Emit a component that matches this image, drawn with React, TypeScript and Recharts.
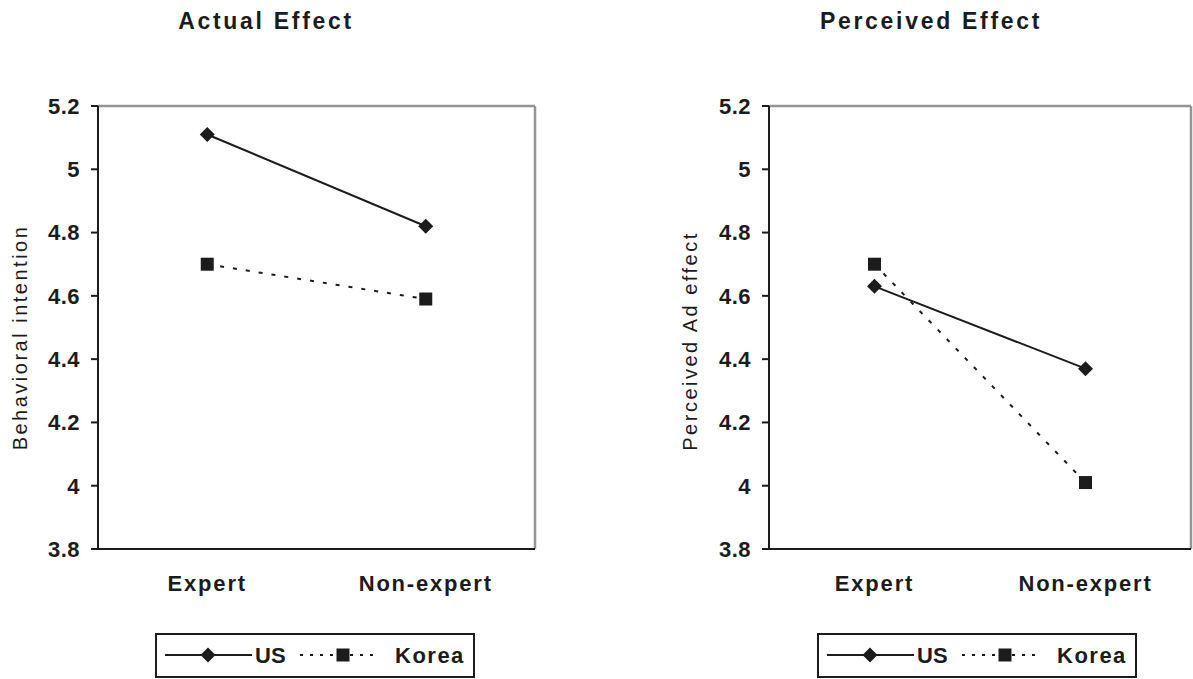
import React from 'react';
import { LineChart, Line, XAxis, YAxis, ReferenceLine, Legend } from 'recharts';

// Group labels and their positions on the numeric x scale (band centres)
const categories = ['Expert', 'Non-expert'];
const categoryPositions = [0.5, 1.5];
const boundaryTicks = [0, 1, 2];

// Series names
const seriesNames = ['US', 'Korea'];

// Actual effect: behavioral intention
const actualUS = [5.11, 4.82];
const actualKorea = [4.7, 4.59];

// Perceived effect: perceived ad effect
const perceivedUS = [4.63, 4.37];
const perceivedKorea = [4.7, 4.01];

// Shared value axis
const yTicks = [3.8, 4, 4.2, 4.4, 4.6, 4.8, 5, 5.2];
const yDomain: [number, number] = [3.8, 5.2];

const INK = '#1c1c1c';
const FRAME = '#959595';
const FONT = '"Liberation Sans", Arial, Helvetica, sans-serif';

const buildRows = (us: number[], korea: number[]) =>
  categories.map((name, i) => ({ x: categoryPositions[i], name, us: us[i], korea: korea[i] }));

const Diamond = (props: any) => {
  const { cx, cy, index } = props;
  if (cx == null || cy == null) return null;
  const r = 7.5;
  return (
    <path
      key={`d-${index}`}
      d={`M${cx},${cy - r}L${cx + r},${cy}L${cx},${cy + r}L${cx - r},${cy}Z`}
      fill={INK}
    />
  );
};

const Square = (props: any) => {
  const { cx, cy, index } = props;
  if (cx == null || cy == null) return null;
  const s = 13;
  return <rect key={`s-${index}`} x={cx - s / 2} y={cy - s / 2} width={s} height={s} fill={INK} />;
};

const AxisTitle = (props: any) => {
  const { viewBox, text, shift } = props;
  if (!viewBox) return null;
  const cx = viewBox.x + 19.5;
  const cy = viewBox.y + viewBox.height / 2 + shift;
  return (
    <text
      x={cx}
      y={cy}
      transform={`rotate(-90 ${cx} ${cy})`}
      textAnchor="middle"
      dominantBaseline="central"
      fill={INK}
      style={{ fontFamily: FONT, fontSize: 20, letterSpacing: 2.5 }}
    >
      {text}
    </text>
  );
};

// Boxed legend: solid line with diamond for US, dotted line with square for Korea
const LegendBox = (props: any) => {
  const payload: any[] = props.payload || [];
  const has = (n: string) => payload.some((p) => p.value === n);
  const mid = 20;
  return (
    <div
      style={{
        boxSizing: 'border-box',
        width: 320,
        height: 45,
        border: `2px solid ${INK}`,
        background: '#fff',
      }}
    >
      <svg width={316} height={41} style={{ display: 'block' }}>
        {has(seriesNames[0]) && (
          <g>
            <line x1={8} x2={95} y1={mid} y2={mid} stroke={INK} strokeWidth={2} />
            <Diamond cx={51} cy={mid} index={0} />
            <text x={98} y={mid + 8} fill={INK} style={{ fontFamily: FONT, fontSize: 22, fontWeight: 700 }}>
              {seriesNames[0]}
            </text>
          </g>
        )}
        {has(seriesNames[1]) && (
          <g>
            <line x1={143} x2={222} y1={mid} y2={mid} stroke={INK} strokeWidth={2} strokeDasharray="3 7" />
            <Square cx={186} cy={mid} index={1} />
            <text
              x={238}
              y={mid + 8}
              fill={INK}
              style={{ fontFamily: FONT, fontSize: 22, fontWeight: 700, letterSpacing: 1.5 }}
            >
              {seriesNames[1]}
            </text>
          </g>
        )}
      </svg>
    </div>
  );
};

type PanelProps = {
  us: number[];
  korea: number[];
  width: number;
  rightMargin: number;
  yAxisWidth: number;
  yLabel: string;
  yLabelShift: number;
  legendLeft: number;
};

const Panel = ({ us, korea, width, rightMargin, yAxisWidth, yLabel, yLabelShift, legendLeft }: PanelProps) => {
  const rows = buildRows(us, korea);
  return (
    <LineChart
      width={width}
      height={679}
      data={rows}
      margin={{ top: 106, right: rightMargin, bottom: 80, left: 0 }}
      style={{ fontFamily: FONT }}
    >
      <XAxis
        xAxisId={0}
        type="number"
        dataKey="x"
        domain={[0, 2]}
        ticks={boundaryTicks}
        tick={false}
        tickSize={7}
        height={10}
        stroke={INK}
        axisLine={{ stroke: INK, strokeWidth: 2 }}
        tickLine={{ stroke: INK, strokeWidth: 2 }}
      />
      <XAxis
        xAxisId="names"
        type="number"
        dataKey="x"
        domain={[0, 2]}
        ticks={categoryPositions}
        tickFormatter={(v: number) => categories[categoryPositions.indexOf(v)] ?? ''}
        axisLine={false}
        tickLine={false}
        tickSize={0}
        tickMargin={16}
        height={40}
        interval={0}
        tick={{ fill: INK, fontSize: 22, fontWeight: 700, letterSpacing: 1.8 }}
      />
      <YAxis
        type="number"
        domain={yDomain}
        ticks={yTicks}
        interval={0}
        width={yAxisWidth}
        tickSize={7}
        tickMargin={11}
        stroke={INK}
        axisLine={{ stroke: INK, strokeWidth: 2 }}
        tickLine={{ stroke: INK, strokeWidth: 2 }}
        tick={{ fill: INK, fontSize: 22, fontWeight: 700, letterSpacing: 0.5 }}
        label={<AxisTitle text={yLabel} shift={yLabelShift} />}
      />
      <ReferenceLine y={5.2} stroke={FRAME} strokeWidth={2.5} />
      <ReferenceLine x={2} stroke={FRAME} strokeWidth={2.5} />
      <Line
        dataKey="us"
        name={seriesNames[0]}
        stroke={INK}
        strokeWidth={2}
        dot={Diamond}
        activeDot={false}
        isAnimationActive={false}
      />
      <Line
        dataKey="korea"
        name={seriesNames[1]}
        stroke={INK}
        strokeWidth={2}
        strokeDasharray="4 9"
        dot={Square}
        activeDot={false}
        isAnimationActive={false}
      />
      <Legend
        layout="horizontal"
        verticalAlign="middle"
        align="center"
        content={<LegendBox />}
        wrapperStyle={{ position: 'absolute', left: legendLeft, top: 633, width: 320, height: 45 }}
      />
    </LineChart>
  );
};

const titleStyle: React.CSSProperties = {
  position: 'absolute',
  top: 10,
  width: 300,
  textAlign: 'center',
  fontFamily: FONT,
  fontSize: 23,
  lineHeight: '23px',
  fontWeight: 700,
  letterSpacing: 2.7,
  color: INK,
  whiteSpace: 'nowrap',
};

export default function App() {
  return (
    <div
      style={{
        position: 'absolute',
        left: 0,
        top: 0,
        width: 1193,
        height: 679,
        background: '#fff',
        overflow: 'hidden',
      }}
    >
      <div style={{ ...titleStyle, left: 266 - 150 }}>Actual Effect</div>
      <div style={{ ...titleStyle, left: 931 - 150 }}>Perceived Effect</div>
      <div style={{ position: 'absolute', left: 0, top: 0 }}>
        <Panel
          us={actualUS}
          korea={actualKorea}
          width={560}
          rightMargin={25}
          yAxisWidth={98}
          yLabel="Behavioral intention"
          yLabelShift={10}
          legendLeft={155}
        />
      </div>
      <div style={{ position: 'absolute', left: 670, top: 0 }}>
        <Panel
          us={perceivedUS}
          korea={perceivedKorea}
          width={523}
          rightMargin={2}
          yAxisWidth={99}
          yLabel="Perceived Ad effect"
          yLabelShift={13.5}
          legendLeft={147}
        />
      </div>
    </div>
  );
}
